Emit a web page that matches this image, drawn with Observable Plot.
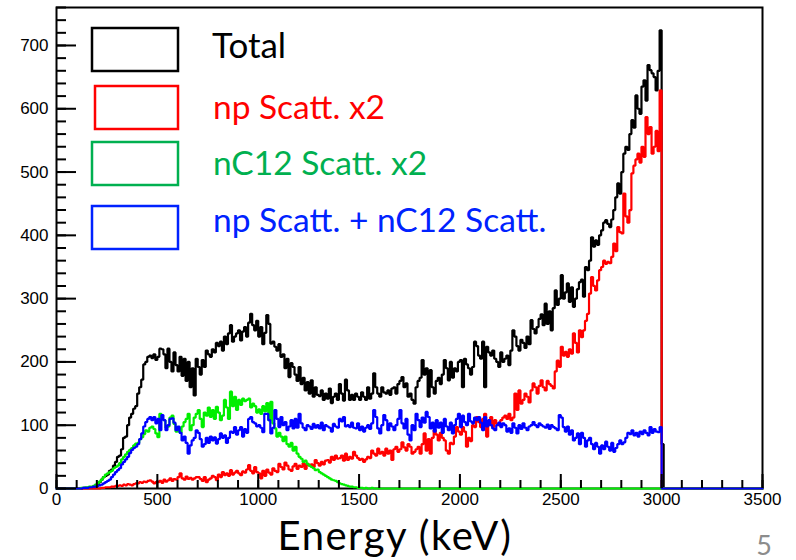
<!DOCTYPE html>
<html>
<head>
<meta charset="utf-8">
<script src="https://cdn.jsdelivr.net/npm/d3@7"></script>
<script src="https://cdn.jsdelivr.net/npm/@observablehq/plot@0.6"></script>
<style>
html, body { margin: 0; padding: 0; background: #ffffff; }
#wrap { position: relative; width: 796px; height: 560px; overflow: hidden; background: #ffffff; }
#overlay { position: absolute; left: 0; top: 0; pointer-events: none; }
</style>
</head>
<body>
<div id="wrap"></div>
<script>
// ---- data: 10 keV bins starting at 0 keV ----
const binWidth = 10;

const total = [
  0,0,0,0,0,0,0,0,0,0,
  0,0,0,1,1,1,2,2,3,4,
  6,10,14,18,20,22,28,30,36,42,
  50,52,62,80,82,100,112,118,126,130,
  150,160,172,196,200,208,210,206,212,203,
  208,221,220,212,190,221,200,185,215,195,
  185,208,178,205,170,200,160,190,147,205,
  192,180,203,192,218,212,208,220,215,230,
  225,232,218,240,228,245,258,232,240,245,
  250,234,248,255,240,262,276,258,250,265,
  240,255,228,246,274,260,229,232,224,218,
  228,208,212,190,205,176,198,192,180,170,
  192,165,175,155,168,150,171,145,160,148,
  146,155,140,150,142,158,135,145,150,140,
  165,150,139,172,155,140,148,140,150,145,
  140,152,145,140,160,142,150,182,160,150,
  145,160,152,150,155,148,158,160,150,165,
  170,176,160,166,145,150,140,134,160,170,
  175,203,180,190,145,187,160,150,170,175,
  165,180,203,190,171,200,175,190,185,200,
  203,160,205,196,190,180,192,232,225,210,
  205,232,160,224,215,210,218,205,200,192,
  215,200,205,210,195,218,250,240,225,218,
  235,230,222,240,228,266,252,245,255,268,
  275,258,292,260,280,250,285,313,290,300,
  337,300,310,324,295,318,287,300,315,326,
  330,303,350,345,360,397,382,392,385,400,
  408,420,424,418,413,425,440,460,482,466,
  500,529,540,535,560,582,570,621,600,592,
  635,645,613,669,661,656,650,629,660,724,
  70,0,0,0,0,0,0,0,0,0,
  0,0,0,0,0,0,0,0,0,0,
  0,0,0,0,0,0,0,0,0,0,
  0,0,0,0,0,0,0,0,0,0,
  0,0,0,0,0,0,0,0,0,0
];

const npScatt = [
  0,0,0,0,0,0,0,0,0,0,
  0,0,0,0,0,0,0,0,0,0,
  0,0,1,1,2,2,2,3,3,4,
  4,5,4,6,5,7,6,5,7,8,
  8,10,9,11,10,12,13,11,8,10,
  10,12,9,14,11,13,16,12,15,14,
  18,24,16,14,19,15,17,14,16,18,
  18,15,12,18,10,14,16,20,18,13,
  22,18,26,21,24,20,29,22,25,28,
  24,21,27,25,30,37,28,24,34,26,
  24,16,28,20,30,25,22,32,28,26,
  39,34,30,41,36,30,28,35,39,31,
  36,34,40,31,39,36,38,34,45,40,
  36,42,38,44,45,41,50,45,52,47,
  48,52,44,55,45,50,47,58,52,48,
  45,47,42,46,50,48,60,55,52,63,
  55,58,52,63,55,60,45,62,66,58,
  62,73,65,60,70,66,55,58,62,66,
  55,70,87,60,78,55,80,92,85,76,
  88,80,76,60,55,72,70,82,97,90,
  85,97,90,66,80,75,100,97,113,105,
  97,110,118,82,100,113,97,108,102,100,
  108,112,115,110,118,108,112,150,124,155,
  134,140,150,145,136,155,166,160,150,162,
  171,160,155,170,165,162,158,185,202,192,
  224,210,216,208,220,213,245,230,215,250,
  239,250,265,276,308,334,320,313,329,345,
  350,360,355,358,356,366,387,375,413,405,
  403,466,430,420,440,498,510,520,529,515,
  540,524,587,560,571,529,540,565,533,629,
  0,0,0,0,0,0,0,0,0,0,
  0,0,0,0,0,0,0,0,0,0,
  0,0,0,0,0,0,0,0,0,0,
  0,0,0,0,0,0,0,0,0,0,
  0,0,0,0,0,0,0,0,0,0
];

const nC12Scatt = [
  0,0,0,0,0,0,0,0,0,0,
  0,0,1,1,2,2,3,3,4,6,
  8,11,14,18,22,24,26,28,32,34,
  36,40,46,50,54,58,61,64,68,71,
  72,78,81,86,92,90,96,98,94,87,
  81,118,110,108,96,98,112,115,102,90,
  96,88,98,105,110,118,92,100,112,118,
  124,110,97,120,115,128,113,124,110,129,
  120,108,115,140,128,110,153,130,145,124,
  140,132,142,138,140,142,128,134,130,120,
  125,118,130,122,135,108,137,103,95,82,
  88,82,75,82,70,66,72,60,66,55,
  50,47,42,44,39,36,34,32,29,30,
  26,24,22,20,18,16,14,13,12,10,
  8,7,6,5,4,3,3,2,2,1,
  1,1,0,1,0,0,1,0,0,0,
  0,0,0,0,0,0,0,0,0,0,
  0,0,0,0,0,0,0,0,0,0,
  0,0,0,0,0,0,0,0,0,0,
  0,0,0,0,0,0,0,0,0,0,
  0,0,0,0,0,0,0,0,0,0,
  0,0,0,0,0,0,0,0,0,0,
  0,0,0,0,0,0,0,0,0,0,
  0,0,0,0,0,0,0,0,0,0,
  0,0,0,0,0,0,0,0,0,0,
  0,0,0,0,0,0,0,0,0,0,
  0,0,0,0,0,0,0,0,0,0,
  0,0,0,0,0,0,0,0,0,0,
  0,0,0,0,0,0,0,0,0,0,
  0,0,0,0,0,0,0,0,0,0,
  0,0,0,0,0,0,0,0,0,0,
  0,0,0,0,0,0,0,0,0,0,
  0,0,0,0,0,0,0,0,0,0,
  0,0,0,0,0,0,0,0,0,0,
  0,0,0,0,0,0,0,0,0,0
];

const sumScatt = [
  0,0,0,0,0,0,0,0,0,0,
  0,0,0,1,1,1,2,2,3,3,
  4,5,6,8,10,12,14,18,22,26,
  29,32,38,42,46,50,56,61,64,66,
  70,78,87,98,105,110,113,108,113,103,
  110,92,116,108,92,100,110,111,104,92,
  98,88,76,82,72,55,68,76,80,92,
  88,78,66,70,80,72,82,76,81,71,
  78,87,80,84,72,80,90,88,97,85,
  92,97,82,94,88,110,113,105,103,98,
  100,96,89,118,118,108,87,96,124,110,
  97,113,100,105,92,98,108,95,110,96,
  118,103,96,92,100,98,94,102,96,100,
  95,104,92,100,98,96,90,102,98,96,
  110,106,113,98,100,97,104,96,95,103,
  92,98,90,96,100,94,103,124,113,95,
  87,100,116,108,92,103,98,92,100,110,
  124,103,95,110,85,76,100,92,118,108,
  97,112,104,121,113,95,104,90,108,96,
  104,88,110,98,92,104,87,100,110,118,
  97,115,105,100,118,106,103,112,108,113,
  104,92,113,98,108,100,95,92,100,104,
  97,103,100,90,95,88,103,96,87,100,
  94,103,96,92,98,100,105,100,97,103,
  100,98,96,101,94,100,97,95,92,116,
  112,97,90,98,85,92,76,80,87,70,
  88,80,66,76,80,70,62,72,66,55,
  68,62,74,66,60,72,58,64,70,76,
  70,73,80,88,86,92,84,88,82,90,
  86,92,88,84,97,88,94,90,89,97,
  0,0,0,0,0,0,0,0,0,0,
  0,0,0,0,0,0,0,0,0,0,
  0,0,0,0,0,0,0,0,0,0,
  0,0,0,0,0,0,0,0,0,0,
  0,0,0,0,0,0,0,0,0,0
];

const seriesNames = ["Total", "np Scatt. x2", "nC12 Scatt. x2", "np Scatt. + nC12 Scatt."];
const lineColors = ["#000000", "#ff0000", "#00ee00", "#0000ff"];
const legendColors = ["#000000", "#ff0000", "#00b050", "#0022ff"];

const xMajorTicks = [0, 500, 1000, 1500, 2000, 2500, 3000, 3500];
const xMinorTicks = [0,100,200,300,400,500,600,700,800,900,1000,1100,1200,1300,1400,1500,1600,1700,1800,1900,2000,2100,2200,2300,2400,2500,2600,2700,2800,2900,3000,3100,3200,3300,3400,3500];
const yMajorTicks = [0, 100, 200, 300, 400, 500, 600, 700];
const yMinorTicks = [0,20,40,60,80,100,120,140,160,180,200,220,240,260,280,300,320,340,360,380,400,420,440,460,480,500,520,540,560,580,600,620,640,660,680,700,720,740,760];
const xDomain = [0, 3500];
const yDomain = [0, 760];
const xTitle = "Energy (keV)";
const pageNumber = "5";

// ---- build step rows (bin left edges + closing edge) ----
function toRows(vals, name) {
  const rows = vals.map((v, i) => ({series: name, energy: i * binWidth, count: v}));
  rows.push({series: name, energy: vals.length * binWidth, count: vals[vals.length - 1]});
  return rows;
}
const allSeries = [total, npScatt, nC12Scatt, sumScatt];

const tickFont = "'Liberation Sans', Arial, Helvetica, sans-serif";
const plainNumber = d => String(d);

const chart = Plot.plot({
  width: 796,
  height: 560,
  marginLeft: 56,
  marginRight: 34,
  marginTop: 7,
  marginBottom: 72,
  x: {domain: xDomain, label: null},
  y: {domain: yDomain, label: null},
  style: {fontFamily: tickFont, fontSize: "17px", background: "#ffffff", color: "#000000"},
  marks: [
    Plot.frame({stroke: "#000000", strokeWidth: 2}),
    ...allSeries.map((vals, k) =>
      Plot.line(toRows(vals, seriesNames[k]), {
        x: "energy", y: "count", curve: "step-after",
        stroke: lineColors[k], strokeWidth: 2.2, strokeLinejoin: "miter"
      })
    ),
    Plot.axisX(xMinorTicks, {tickSize: -8, tickFormat: () => "", strokeWidth: 2, label: null}),
    Plot.axisX(xMajorTicks, {tickSize: -14, tickFormat: () => "", strokeWidth: 2, label: null}),
    Plot.axisX(xMajorTicks, {tickSize: 0, tickPadding: 4, fontSize: 17, tickFormat: plainNumber, label: null}),
    Plot.axisY(yMinorTicks, {tickSize: -10, tickFormat: () => "", strokeWidth: 2, label: null}),
    Plot.axisY(yMajorTicks, {tickSize: -20, tickFormat: () => "", strokeWidth: 2, label: null}),
    Plot.axisY(yMajorTicks, {tickSize: 0, tickPadding: 8, fontSize: 17, tickFormat: plainNumber, label: null})
  ]
});

const wrap = document.getElementById("wrap");
wrap.appendChild(chart);

// ---- axis title, legend and page number overlay ----
const legendLayout = [
  {x: 92, y: 28, w: 86, h: 43, tx: 212, ty: 58, fs: 35},
  {x: 95, y: 86, w: 83, h: 43, tx: 213, ty: 119, fs: 33.5},
  {x: 92, y: 142, w: 86, h: 43, tx: 213, ty: 175, fs: 33.5},
  {x: 92, y: 206, w: 86, h: 43, tx: 213, ty: 232, fs: 33.5}
];
const overlay = d3.select(wrap).append("svg")
  .attr("id", "overlay").attr("width", 796).attr("height", 560);
overlay.append("text")
  .attr("x", 395).attr("y", 550).attr("text-anchor", "middle")
  .attr("fill", "#000000")
  .attr("font-family", "Lato, 'Open Sans', sans-serif")
  .attr("font-size", 40)
  .attr("letter-spacing", "1.5px")
  .text(xTitle);
legendLayout.forEach((L, k) => {
  overlay.append("rect")
    .attr("x", L.x).attr("y", L.y).attr("width", L.w).attr("height", L.h)
    .attr("fill", "none").attr("stroke", legendColors[k]).attr("stroke-width", 2.5);
  overlay.append("text")
    .attr("x", L.tx).attr("y", L.ty)
    .attr("fill", legendColors[k])
    .attr("font-family", "Lato, 'Open Sans', sans-serif")
    .attr("font-size", L.fs)
    .text(seriesNames[k]);
});
overlay.append("text")
  .attr("x", 764).attr("y", 555).attr("text-anchor", "middle")
  .attr("fill", "#8c8c8c")
  .attr("font-family", "Lato, 'Open Sans', sans-serif")
  .attr("font-size", 27)
  .text(pageNumber);
</script>
</body>
</html>
